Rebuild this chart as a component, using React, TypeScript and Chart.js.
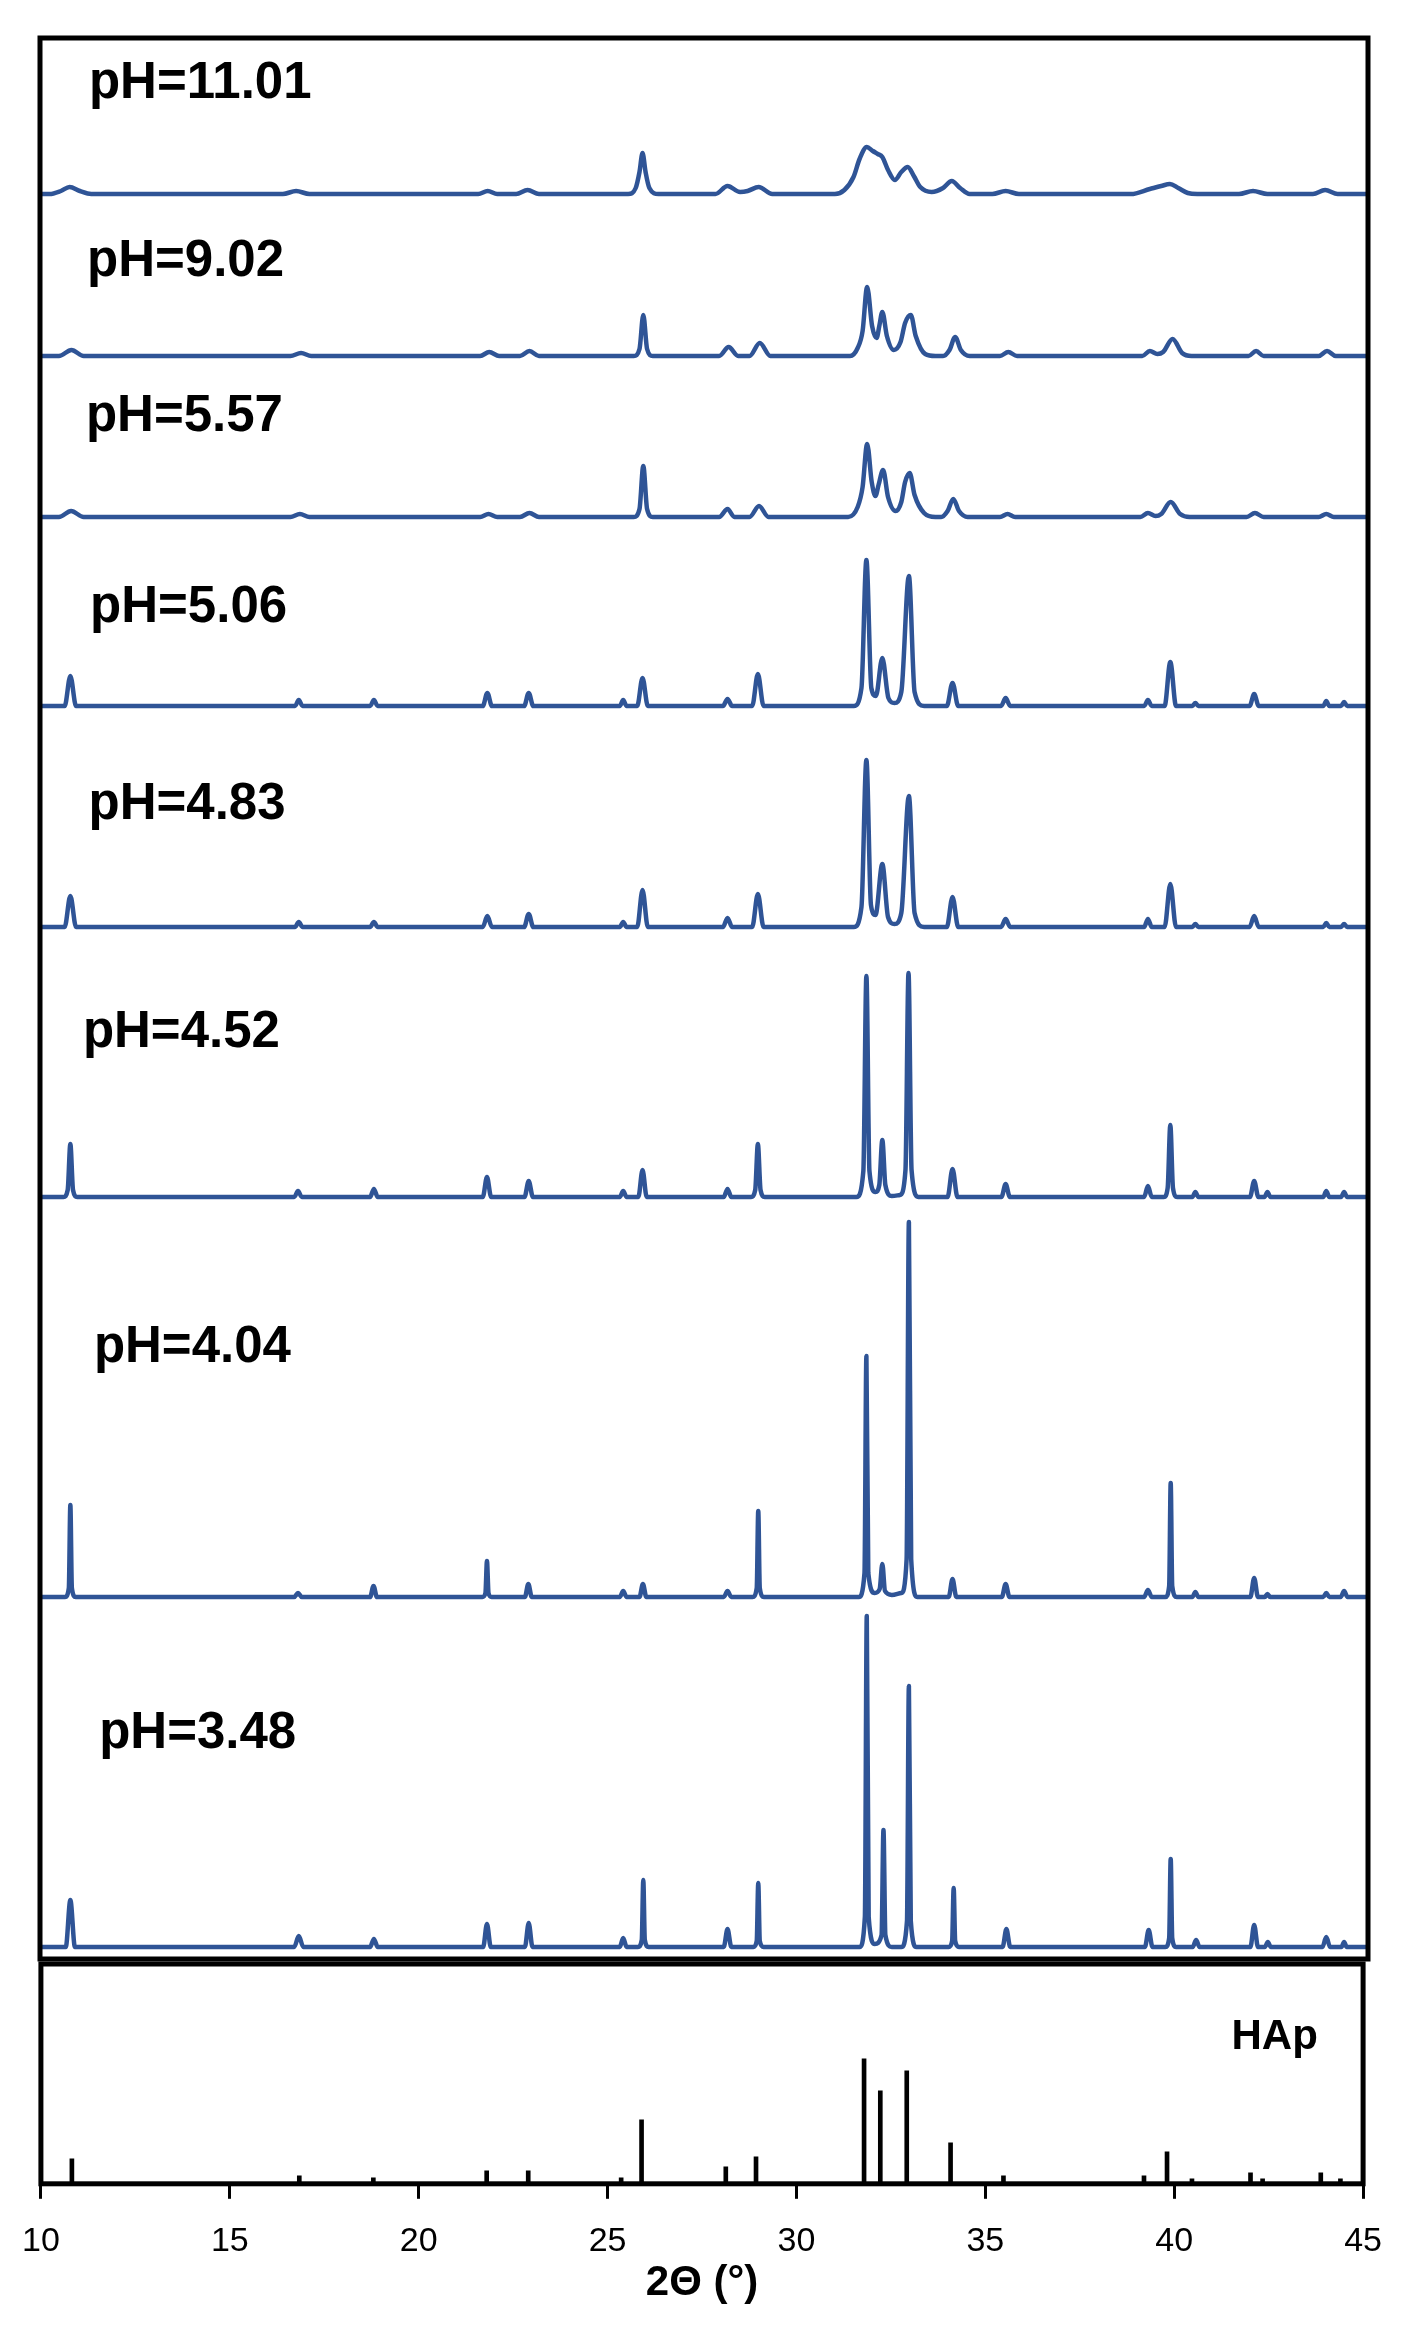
import React, { useEffect, useRef } from "react";
import { Chart, registerables } from "chart.js";

Chart.register(...registerables);

// ---------- DATA ----------
const sampleLabels = ["pH=11.01", "pH=9.02", "pH=5.57", "pH=5.06", "pH=4.83", "pH=4.52", "pH=4.04", "pH=3.48"];
// vertical stacking offsets of each pattern (intensity units)
const offsets = [1765, 1603, 1442, 1253, 1032, 762, 362, 12];
// label anchor: [2theta, intensity units]
const labelPos: [number, number][] = [
  [11.29, 1875], [11.24, 1697], [11.21, 1542], [11.32, 1351],
  [11.28, 1154], [11.13, 926], [11.42, 611], [11.56, 225],
];

// [2theta, intensity] vertices
const ph1101: [number, number][] = [
  [10, 0], [10.25, 0], [10.55, 3], [10.78, 7], [11.05, 3], [11.35, 0],
  [16.4, 0], [16.75, 3], [17.1, 0],
  [21.55, 0], [21.8, 3], [22.05, 0], [22.55, 0], [22.85, 4], [23.15, 0],
  [25.5, 0], [25.7, 6], [25.8, 22], [25.88, 41], [25.96, 22], [26.06, 6], [26.3, 0],
  [27.8, 0], [28.12, 8], [28.45, 2], [28.65, 3], [28.94, 7], [29.3, 0],
  [30.95, 0], [31.2, 4], [31.44, 17], [31.6, 35], [31.79, 47], [31.95, 43], [32.08, 40], [32.2, 37],
  [32.35, 24], [32.53, 14], [32.7, 22], [32.87, 27], [33.03, 18], [33.2, 7], [33.5, 2],
  [33.8, 6], [34.03, 13], [34.25, 6], [34.5, 0],
  [35.1, 0], [35.45, 3], [35.8, 0],
  [38.75, 0], [39.25, 5], [39.55, 8], [39.78, 10], [40.0, 6], [40.25, 1], [40.5, 0],
  [41.6, 0], [41.97, 3], [42.35, 0],
  [43.55, 0], [43.87, 4], [44.2, 0], [45, 0],
];

const ph902: [number, number][] = [
  [10, 0], [10.5, 0], [10.83, 6], [11.15, 0],
  [16.6, 0], [16.88, 3], [17.15, 0],
  [21.6, 0], [21.84, 4], [22.1, 0], [22.65, 0], [22.9, 5], [23.15, 0],
  [25.65, 0], [25.8, 7], [25.9, 41], [26.0, 7], [26.15, 0],
  [27.9, 0], [28.15, 9], [28.4, 0], [28.7, 0], [28.97, 13], [29.25, 0],
  [31.35, 0], [31.55, 8], [31.68, 25], [31.8, 69], [31.93, 30], [32.05, 18], [32.12, 30], [32.2, 44],
  [32.32, 20], [32.5, 6], [32.68, 14], [32.8, 33], [32.95, 41], [33.08, 20], [33.33, 2], [33.6, 0],
  [33.8, 0], [33.97, 6], [34.12, 19], [34.27, 6], [34.5, 0],
  [35.3, 0], [35.52, 4], [35.75, 0],
  [39.05, 0], [39.25, 5], [39.45, 2], [39.6, 4], [39.85, 17], [40.1, 3], [40.35, 0],
  [41.85, 0], [42.05, 5], [42.25, 0],
  [43.7, 0], [43.92, 5], [44.15, 0], [45, 0],
];

const ph557: [number, number][] = [
  [10, 0], [10.5, 0], [10.82, 6], [11.15, 0],
  [16.6, 0], [16.85, 3], [17.1, 0],
  [21.6, 0], [21.82, 3], [22.05, 0], [22.65, 0], [22.9, 4], [23.15, 0],
  [25.65, 0], [25.8, 8], [25.9, 51], [26.0, 8], [26.15, 0],
  [27.9, 0], [28.12, 8], [28.3, 0], [28.7, 0], [28.95, 11], [29.2, 0],
  [31.3, 0], [31.55, 10], [31.68, 30], [31.8, 73], [31.92, 35], [32.02, 21], [32.1, 32], [32.22, 47],
  [32.35, 20], [32.55, 6], [32.7, 15], [32.8, 35], [32.92, 44], [33.05, 22], [33.3, 4], [33.6, 0],
  [33.75, 0], [33.92, 6], [34.07, 18], [34.22, 6], [34.45, 0],
  [35.3, 0], [35.5, 3], [35.7, 0],
  [39.0, 0], [39.2, 4], [39.4, 1], [39.55, 3], [39.8, 15], [40.05, 3], [40.3, 0],
  [41.8, 0], [42.02, 4], [42.25, 0],
  [43.7, 0], [43.9, 3], [44.1, 0], [45, 0],
];

const ph506: [number, number][] = [
  [10, 0], [10.65, 0], [10.8, 30], [10.95, 0],
  [16.72, 0], [16.82, 6], [16.92, 0],
  [18.7, 0], [18.8, 6], [18.9, 0],
  [21.67, 0], [21.79, 13], [21.91, 0], [22.76, 0], [22.88, 13], [23.0, 0],
  [25.28, 0], [25.37, 6], [25.46, 0], [25.74, 0], [25.88, 28], [26.02, 0],
  [28.0, 0], [28.12, 7], [28.24, 0], [28.77, 0], [28.92, 32], [29.07, 0],
  [31.45, 0], [31.65, 18], [31.78, 146], [31.91, 18], [32.03, 10], [32.2, 48], [32.36, 8], [32.52, 3],
  [32.7, 14], [32.9, 130], [33.05, 14], [33.3, 0],
  [33.9, 0], [34.05, 23], [34.2, 0],
  [35.33, 0], [35.45, 8], [35.57, 0],
  [39.1, 0], [39.2, 6], [39.3, 0], [39.64, 0], [39.79, 44], [39.94, 0],
  [40.37, 0], [40.45, 3], [40.53, 0],
  [41.88, 0], [42.0, 12], [42.12, 0],
  [43.82, 0], [43.9, 5], [43.98, 0], [44.29, 0], [44.37, 4], [44.45, 0], [45, 0],
];

const ph483: [number, number][] = [
  [10, 0], [10.65, 0], [10.8, 31], [10.95, 0],
  [16.72, 0], [16.82, 5], [16.92, 0],
  [18.7, 0], [18.8, 5], [18.9, 0],
  [21.67, 0], [21.79, 11], [21.91, 0], [22.76, 0], [22.88, 13], [23.0, 0],
  [25.28, 0], [25.37, 5], [25.46, 0], [25.74, 0], [25.88, 37], [26.02, 0],
  [28.0, 0], [28.12, 9], [28.24, 0], [28.77, 0], [28.92, 33], [29.07, 0],
  [31.45, 0], [31.65, 20], [31.78, 167], [31.9, 22], [32.02, 12], [32.2, 63], [32.35, 10], [32.52, 3],
  [32.7, 14], [32.9, 131], [33.05, 14], [33.3, 0],
  [33.9, 0], [34.05, 30], [34.2, 0],
  [35.33, 0], [35.45, 8], [35.57, 0],
  [39.1, 0], [39.2, 8], [39.3, 0], [39.64, 0], [39.79, 43], [39.94, 0],
  [40.37, 0], [40.45, 3], [40.53, 0],
  [41.88, 0], [42.0, 11], [42.12, 0],
  [43.82, 0], [43.9, 4], [43.98, 0], [44.29, 0], [44.37, 3], [44.45, 0], [45, 0],
];

const ph452: [number, number][] = [
  [10, 0], [10.62, 0], [10.73, 7], [10.8, 53], [10.87, 7], [10.98, 0],
  [16.7, 0], [16.8, 6], [16.9, 0],
  [18.7, 0], [18.8, 8], [18.9, 0],
  [21.67, 0], [21.78, 20], [21.89, 0], [22.77, 0], [22.88, 16], [22.99, 0],
  [25.28, 0], [25.37, 6], [25.46, 0], [25.77, 0], [25.88, 27], [25.99, 0],
  [28.02, 0], [28.12, 8], [28.22, 0],
  [28.74, 0], [28.85, 7], [28.92, 53], [28.99, 7], [29.1, 0],
  [31.52, 0], [31.7, 26], [31.78, 221], [31.86, 26], [32.02, 5], [32.12, 12], [32.2, 57], [32.28, 12],
  [32.45, 1], [32.66, 2], [32.81, 27], [32.89, 224], [32.97, 27], [33.15, 0],
  [33.92, 0], [34.05, 28], [34.18, 0],
  [35.34, 0], [35.45, 13], [35.56, 0],
  [39.1, 0], [39.2, 11], [39.3, 0],
  [39.62, 0], [39.72, 9], [39.79, 72], [39.86, 9], [39.97, 0],
  [40.37, 0], [40.45, 5], [40.53, 0],
  [41.89, 0], [42.0, 16], [42.11, 0], [42.27, 0], [42.35, 5], [42.43, 0],
  [43.82, 0], [43.9, 6], [43.98, 0], [44.29, 0], [44.37, 5], [44.45, 0], [45, 0],
];

const ph404: [number, number][] = [
  [10, 0], [10.66, 0], [10.76, 9], [10.8, 92], [10.84, 9], [10.94, 0],
  [16.7, 0], [16.8, 4], [16.9, 0],
  [18.7, 0], [18.79, 11], [18.88, 0],
  [21.66, 0], [21.74, 4], [21.78, 36], [21.82, 4], [21.9, 0],
  [22.78, 0], [22.87, 13], [22.96, 0],
  [25.28, 0], [25.37, 6], [25.46, 0], [25.8, 0], [25.89, 13], [25.98, 0],
  [28.02, 0], [28.12, 6], [28.22, 0],
  [28.78, 0], [28.89, 9], [28.93, 86], [28.97, 9], [29.08, 0],
  [31.58, 0], [31.73, 24], [31.78, 241], [31.83, 24], [32.0, 4], [32.13, 8], [32.2, 33], [32.27, 6],
  [32.45, 2], [32.7, 4], [32.84, 38], [32.9, 375], [32.96, 38], [33.12, 0],
  [33.95, 0], [34.05, 18], [34.15, 0],
  [35.35, 0], [35.45, 13], [35.55, 0],
  [39.1, 0], [39.2, 7], [39.3, 0],
  [39.66, 0], [39.76, 11], [39.8, 114], [39.84, 11], [39.96, 0],
  [40.37, 0], [40.45, 5], [40.53, 0],
  [41.9, 0], [42.0, 19], [42.1, 0], [42.28, 0], [42.35, 3], [42.42, 0],
  [43.82, 0], [43.9, 4], [43.98, 0], [44.28, 0], [44.37, 6], [44.46, 0], [45, 0],
];

const ph348: [number, number][] = [
  [10, 0], [10.68, 0], [10.8, 47], [10.92, 0],
  [16.7, 0], [16.82, 11], [16.94, 0],
  [18.7, 0], [18.8, 8], [18.9, 0],
  [21.68, 0], [21.78, 23], [21.88, 0], [22.78, 0], [22.88, 24], [22.98, 0],
  [25.28, 0], [25.37, 9], [25.46, 0],
  [25.76, 0], [25.86, 7], [25.9, 67], [25.94, 7], [26.04, 0],
  [28.02, 0], [28.12, 18], [28.22, 0],
  [28.8, 0], [28.89, 6], [28.93, 64], [28.97, 6], [29.07, 0],
  [31.6, 0], [31.74, 30], [31.79, 331], [31.84, 30], [32.0, 3], [32.18, 12], [32.23, 117], [32.28, 12],
  [32.45, 0], [32.7, 0], [32.85, 26], [32.9, 261], [32.95, 26], [33.1, 0],
  [33.95, 0], [34.04, 6], [34.08, 59], [34.12, 6], [34.22, 0],
  [35.37, 0], [35.47, 18], [35.57, 0],
  [39.12, 0], [39.22, 17], [39.32, 0],
  [39.66, 0], [39.76, 9], [39.8, 88], [39.84, 9], [39.94, 0],
  [40.38, 0], [40.47, 7], [40.56, 0],
  [41.9, 0], [42.0, 22], [42.1, 0], [42.28, 0], [42.36, 5], [42.44, 0],
  [43.8, 0], [43.9, 10], [44.0, 0], [44.3, 0], [44.37, 5], [44.44, 0], [45, 0],
];

const patterns = [ph1101, ph902, ph557, ph506, ph483, ph452, ph404, ph348];

// HAp reference pattern (stick positions and heights)
const hapPositions = [10.82, 16.84, 18.8, 21.8, 22.9, 25.36, 25.9, 28.13, 28.93, 31.79, 32.22, 32.92, 34.08, 35.48, 39.2, 39.81, 40.47, 42.02, 42.34, 43.88, 44.4];
const hapHeights = [25, 8, 6, 13, 13, 6, 64, 17, 27, 125, 93, 113, 41, 8, 8, 32, 5, 11, 5, 11, 5];
const hapLabel = "HAp";
const hapLabelPos: [number, number] = [42.66, 147];

const xTicks = [10, 15, 20, 25, 30, 35, 40, 45];
const xTitle = "2\u0398 (\u00B0)";

// ---------- STYLE ----------
const BLUE = "#2F5496";
const FONT = "'Liberation Sans', Arial, sans-serif";
const TICK_FONT = "'Liberation Sans Narrow', 'Liberation Sans', Arial, sans-serif";
const W = 1404;
const A_H = 1962;
const B_TOP = 1955;
const B_H = 370;

const framePlugin = {
  id: "frame",
  afterDraw(chart: any) {
    const { ctx, chartArea } = chart;
    const { left, top, right, bottom } = chartArea;
    ctx.save();
    ctx.strokeStyle = "#000";
    ctx.lineWidth = 5;
    ctx.strokeRect(left, top, right - left, bottom - top);
    ctx.restore();
  },
};

const labelsPlugin = {
  id: "phLabels",
  afterDraw(chart: any) {
    const { ctx, scales } = chart;
    ctx.save();
    ctx.fillStyle = "#000";
    ctx.font = `bold 51px ${FONT}`;
    ctx.textAlign = "left";
    ctx.textBaseline = "middle";
    sampleLabels.forEach((t, i) => {
      const [lx, ly] = labelPos[i];
      ctx.fillText(t, scales.x.getPixelForValue(lx), scales.y.getPixelForValue(ly));
    });
    ctx.restore();
  },
};

const hapLabelPlugin = {
  id: "hapLabel",
  afterDraw(chart: any) {
    const { ctx, scales } = chart;
    ctx.save();
    ctx.fillStyle = "#000";
    ctx.font = `bold 42px ${FONT}`;
    ctx.textAlign = "center";
    ctx.textBaseline = "middle";
    ctx.fillText(hapLabel, scales.x.getPixelForValue(hapLabelPos[0]), scales.y.getPixelForValue(hapLabelPos[1]));
    ctx.restore();
  },
};

export default function App() {
  const refA = useRef<HTMLCanvasElement>(null);
  const refB = useRef<HTMLCanvasElement>(null);

  useEffect(() => {
    const datasets = patterns.map((pts, i) => ({
      label: sampleLabels[i],
      data: pts.map(([x, y]) => ({ x, y: y + offsets[i] })),
      borderColor: BLUE,
      borderWidth: 4.5,
      pointRadius: 0,
      cubicInterpolationMode: "monotone" as const,
      fill: false,
      borderJoinStyle: "round" as const,
      borderCapStyle: "round" as const,
    }));

    const chartA = new Chart(refA.current as HTMLCanvasElement, {
      type: "line",
      data: { datasets },
      options: {
        animation: false,
        responsive: false,
        events: [],
        layout: { padding: { left: 40, right: 36, top: 38, bottom: 3 } },
        plugins: { legend: { display: false }, tooltip: { enabled: false } },
        scales: {
          x: { type: "linear", min: 10, max: 45, display: false },
          y: { type: "linear", min: 0, max: 1921, display: false },
        },
      },
      plugins: [framePlugin, labelsPlugin],
    });

    const chartB = new Chart(refB.current as HTMLCanvasElement, {
      type: "bar",
      data: {
        datasets: [
          {
            label: hapLabel,
            data: hapPositions.map((p, i) => ({ x: p, y: hapHeights[i] })),
            backgroundColor: "#000",
            barThickness: 4,
            grouped: false,
          },
        ],
      },
      options: {
        animation: false,
        responsive: false,
        events: [],
        layout: { padding: { left: 40, right: 36, top: 9, bottom: 16 } },
        plugins: { legend: { display: false }, tooltip: { enabled: false } },
        scales: {
          x: {
            type: "linear",
            min: 10,
            max: 45,
            offset: false,
            afterBuildTicks: (scale: any) => {
              scale.ticks = xTicks.map((v) => ({ value: v }));
            },
            ticks: { color: "#000", padding: 22, font: { family: TICK_FONT, size: 34 }, maxRotation: 0, autoSkip: false },
            grid: { display: true, offset: false, drawOnChartArea: false, drawTicks: true, tickLength: 15, color: "#000", lineWidth: 3 },
            border: { display: false },
            title: {
              display: true,
              text: xTitle,
              color: "#000",
              font: { family: FONT, size: 42, weight: "bold" },
              padding: { top: -25, bottom: 0 },
            },
          },
          y: { type: "linear", min: 0, max: 220, display: false },
        },
      },
      plugins: [framePlugin, hapLabelPlugin],
    });

    return () => {
      chartA.destroy();
      chartB.destroy();
    };
  }, []);

  return (
    <div style={{ position: "absolute", left: 0, top: 0, width: W, height: 2325, background: "#fff" }}>
      <canvas
        ref={refA}
        width={W}
        height={A_H}
        style={{ position: "absolute", left: 0, top: 0, width: W, height: A_H }}
      />
      <canvas
        ref={refB}
        width={W}
        height={B_H}
        style={{ position: "absolute", left: 0, top: B_TOP, width: W, height: B_H }}
      />
    </div>
  );
}
